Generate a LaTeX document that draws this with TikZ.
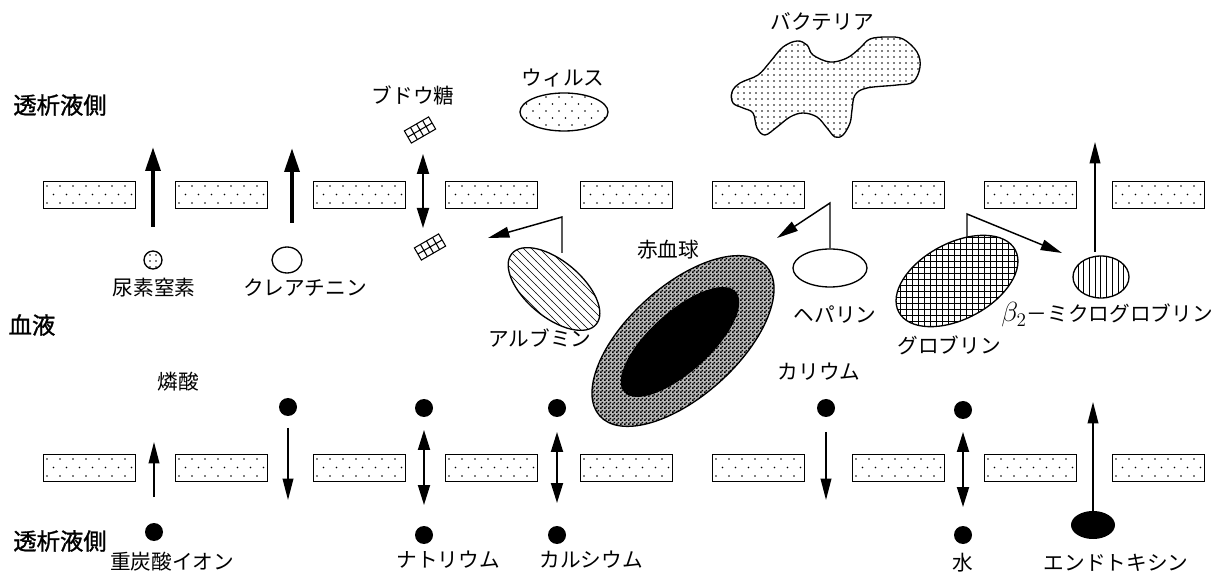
\documentclass[tikz,border=0pt]{standalone}
\usepackage{fontspec}
\setmainfont{Noto Sans CJK JP}
\newfontfamily\jpbold[FakeBold=1.2]{Noto Sans CJK JP}
\usetikzlibrary{arrows.meta,shapes.geometric,patterns}

% fill patterns for the particles
\pgfdeclarepatternformonly{sparsedots}{\pgfqpoint{-1pt}{-1pt}}{\pgfqpoint{6pt}{6pt}}{\pgfqpoint{9.75pt}{10.5pt}}{%
  \pgfpathcircle{\pgfqpoint{0pt}{0pt}}{0.65pt}%
  \pgfpathcircle{\pgfqpoint{4.875pt}{5.25pt}}{0.65pt}%
  \pgfusepath{fill}}
\pgfdeclarepatternformonly{densedots}{\pgfqpoint{-1pt}{-1pt}}{\pgfqpoint{1pt}{1pt}}{\pgfqpoint{4.5pt}{4.5pt}}{%
  \pgfpathcircle{\pgfqpoint{0pt}{0pt}}{0.6pt}%
  \pgfusepath{fill}}
\pgfdeclarepatternformonly{widehatch}{\pgfqpoint{-0.5pt}{-0.5pt}}{\pgfqpoint{6.5pt}{6.5pt}}{\pgfqpoint{6pt}{6pt}}{%
  \pgfsetlinewidth{0.5pt}%
  \pgfpathmoveto{\pgfqpoint{-0.1pt}{6.1pt}}%
  \pgfpathlineto{\pgfqpoint{6.1pt}{-0.1pt}}%
  \pgfusepath{stroke}}
\pgfdeclarepatternformonly{widegrid}{\pgfqpoint{-0.5pt}{-0.5pt}}{\pgfqpoint{4.5pt}{4.5pt}}{\pgfqpoint{4.5pt}{4.5pt}}{%
  \pgfsetlinewidth{0.55pt}%
  \pgfpathmoveto{\pgfqpoint{0pt}{-0.1pt}}\pgfpathlineto{\pgfqpoint{0pt}{4.6pt}}%
  \pgfpathmoveto{\pgfqpoint{-0.1pt}{0pt}}\pgfpathlineto{\pgfqpoint{4.6pt}{0pt}}%
  \pgfusepath{stroke}}
\pgfdeclarepatternformonly{widevlines}{\pgfqpoint{-0.5pt}{-0.5pt}}{\pgfqpoint{4.3pt}{4.3pt}}{\pgfqpoint{4.3pt}{4.3pt}}{%
  \pgfsetlinewidth{0.5pt}%
  \pgfpathmoveto{\pgfqpoint{0pt}{-0.1pt}}\pgfpathlineto{\pgfqpoint{0pt}{4.4pt}}%
  \pgfusepath{stroke}}
\pgfdeclarepatternformonly{finechecks}{\pgfqpoint{0pt}{0pt}}{\pgfqpoint{3pt}{3pt}}{\pgfqpoint{3pt}{3pt}}{%
  \pgfpathrectangle{\pgfqpoint{0pt}{0pt}}{\pgfqpoint{1.5pt}{1.5pt}}%
  \pgfpathrectangle{\pgfqpoint{1.5pt}{1.5pt}}{\pgfqpoint{1.5pt}{1.5pt}}%
  \pgfusepath{fill}}

\tikzset{
  lbl/.style={font=\fontsize{15.5pt}{17pt}\selectfont, inner sep=0pt},
  side/.style={font=\jpbold\fontsize{17.5pt}{19pt}\selectfont, inner sep=0pt},
  membrane/.style={draw, line width=1.1pt, anchor=north west,
    minimum width=69pt, minimum height=20.25pt, inner sep=0pt},
  ion/.style={circle, fill=black, minimum size=13.5pt, inner sep=0pt},
  particle/.style={ellipse, draw, line width=1pt, inner sep=0pt},
  thickarrow/.style={line width=3.2pt, -{Triangle[length=18pt,width=11pt]}},
  thinarrow/.style={line width=1.1pt, -{Triangle[length=16pt,width=8pt]}},
  dblarrow/.style={line width=1.4pt, {Triangle[length=15pt,width=9pt]}-{Triangle[length=15pt,width=9pt]}},
}

\begin{document}
\begin{tikzpicture}[x=0.75pt, y=-0.75pt]
\useasboundingbox (0,0) rectangle (1214,573);

% the two membranes, each pore wall a dotted block
\foreach \x [count=\i] in {43,175,313,445,580,712,852,984,1112}{
  \foreach \y/\row in {181/t, 454/b}{
    \node[membrane] (m\row\i) at (\x,\y) {};
    \foreach \k in {0,...,6}{
      \fill ({\x+4+13*\k},{\y+5}) circle[radius=0.9]
            ({\x+10.5+13*\k},{\y+13.5}) circle[radius=0.9]
            ({\x+4+13*\k},{\y+22}) circle[radius=0.9];
    }
  }
}

% side labels
\node[side] (dtop) at (60,105) {透析液側};
\node[side] (blood) at (32,325) {血液};
\node[side] (dbot) at (60,541) {透析液側};

% urea nitrogen and creatinine
\node[circle, draw, line width=1pt, minimum size=13.5pt, inner sep=0pt, pattern=densedots] (urea) at (153,260) {};
\node[lbl] (ureal) at (154,288) {尿素窒素};
\coordinate (ureas) at (153,227);
\coordinate (ureae) at (153,147);
\draw[thickarrow] (ureas) -- (ureae);

\node[particle, minimum width=22.5pt, minimum height=19.5pt] (crea) at (287,260) {};
\node[lbl] (creal) at (305,288) {クレアチニン};
\coordinate (creas) at (292,223);
\coordinate (creae) at (292,148);
\draw[thickarrow] (creas) -- (creae);

% glucose
\node[lbl] (glul) at (413,95) {ブドウ糖};
\foreach \gx/\gy/\nm in {420/130/glua, 430/247/glub}{
  \coordinate (\nm) at (\gx,\gy);
  \begin{scope}[shift={(\nm)}, rotate=30, line width=0.8pt]
    \draw (-14,-7) rectangle (14,7);
    \draw (-7,-7) -- (-7,7) (0,-7) -- (0,7) (7,-7) -- (7,7)
          (-14,0) -- (14,0);
  \end{scope}
}
\coordinate (glus) at (423,154);
\coordinate (glue) at (423,228);
\draw[dblarrow] (glus) -- (glue);

% virus
\node[lbl] (virl) at (563,78) {ウィルス};
\node[particle, minimum width=66pt, minimum height=28.5pt, pattern=sparsedots] (virus) at (564,112) {};

% bacteria
\node[lbl] (bacl) at (822,22) {バクテリア};
\draw[line width=1pt, pattern=densedots] plot[smooth cycle, tension=0.6] coordinates {
  (732,92) (740,83) (758,75) (770,62) (783,47) (797,41) (807,45) (813,55)
  (830,62) (847,58) (860,48) (870,39) (887,37) (903,39) (917,52) (920,67)
  (913,82) (897,85) (867,88) (855,95) (852,110) (850,123) (843,135) (835,137)
  (827,128) (817,117) (803,113) (790,117) (777,127) (765,135) (757,128)
  (753,113) (743,108) (733,103)};

% albumin
\node[particle, minimum width=82.5pt, minimum height=42pt, rotate=-40, pattern=widehatch] (alb) at (554,289) {};
\node[lbl] (albl) at (540,338) {アルブミン};
\coordinate (albs) at (562,253);
\coordinate (albk) at (562,217);
\coordinate (albe) at (488,238);
\draw[thinarrow] (albs) -- (albk) -- (albe);

% red blood cell
\node[particle, minimum width=168pt, minimum height=82.5pt, rotate=42, fill=gray!55,
      postaction={pattern=finechecks}] (rbc) at (683,341) {};
\node[ellipse, fill=black, minimum width=112.5pt, minimum height=45pt, inner sep=0pt, rotate=42] (rbcin) at (680,342) {};
\node[lbl] (rbcl) at (668,250) {赤血球};

% heparin
\node[particle, minimum width=55.5pt, minimum height=28.5pt] (hep) at (830,268) {};
\node[lbl] (hepl) at (835,315) {ヘパリン};
\coordinate (hepk) at (830,203);
\coordinate (hepe) at (777,238);
\draw[thinarrow] (hep.north) -- (hepk) -- (hepe);

% globulin
\node[particle, minimum width=99pt, minimum height=57pt, rotate=28, pattern=widegrid] (glob) at (957,281) {};
\node[lbl] (globl) at (949,345) {グロブリン};
\coordinate (globs) at (967,237);
\coordinate (globk) at (967,214);
\coordinate (globe) at (1062,253);
\draw[thinarrow] (globs) -- (globk) -- (globe);

% beta2-microglobulin
\node[particle, minimum width=42pt, minimum height=31.5pt, pattern=widevlines] (b2m) at (1101,277) {};
\node[lbl] (b2ml) at (1107,315) {{\fontsize{20pt}{20pt}\selectfont$\beta_{2}$}－ミクログロブリン};
\coordinate (b2ms) at (1095,252);
\coordinate (b2me) at (1095,142);
\draw[thinarrow] (b2ms) -- (b2me);

% electrolytes, water and endotoxin
\node[lbl] (phosl) at (178,382) {燐酸};
\node[ion] (phos) at (288,407) {};
\coordinate (phoss) at (288,428);
\coordinate (phose) at (288,500);
\draw[thinarrow] (phoss) -- (phose);

\node[ion] (bic) at (154,532) {};
\node[lbl] (bicl) at (172,562) {重炭酸イオン};
\coordinate (bics) at (154,497);
\coordinate (bice) at (154,442);
\draw[thinarrow] (bics) -- (bice);

\node[ion] (naa) at (424,408) {};
\node[ion] (nab) at (424,535) {};
\node[lbl] (nal) at (448,560) {ナトリウム};
\coordinate (nas) at (424,430);
\coordinate (nae) at (424,505);
\draw[dblarrow] (nas) -- (nae);

\node[ion] (caa) at (557,408) {};
\node[ion] (cab) at (557,535) {};
\node[lbl] (cal) at (591,560) {カルシウム};
\coordinate (cas) at (557,432);
\coordinate (cae) at (557,503);
\draw[dblarrow] (cas) -- (cae);

\node[lbl] (kl) at (819,372) {カリウム};
\node[ion] (k) at (826,408) {};
\coordinate (ks) at (826,432);
\coordinate (ke) at (826,500);
\draw[thinarrow] (ks) -- (ke);

\node[ion] (wa) at (963,410) {};
\node[ion] (wb) at (963,535) {};
\node[lbl] (wl) at (963,563) {水};
\coordinate (ws) at (963,432);
\coordinate (we) at (963,507);
\draw[dblarrow] (ws) -- (we);

\node[ellipse, fill=black, minimum width=33pt, minimum height=21pt, inner sep=0pt] (endo) at (1093,525) {};
\node[lbl] (endol) at (1116,563) {エンドトキシン};
\coordinate (endoe) at (1093,402);
\draw[thinarrow] (endo.north) -- (endoe);

\end{tikzpicture}
\end{document}
